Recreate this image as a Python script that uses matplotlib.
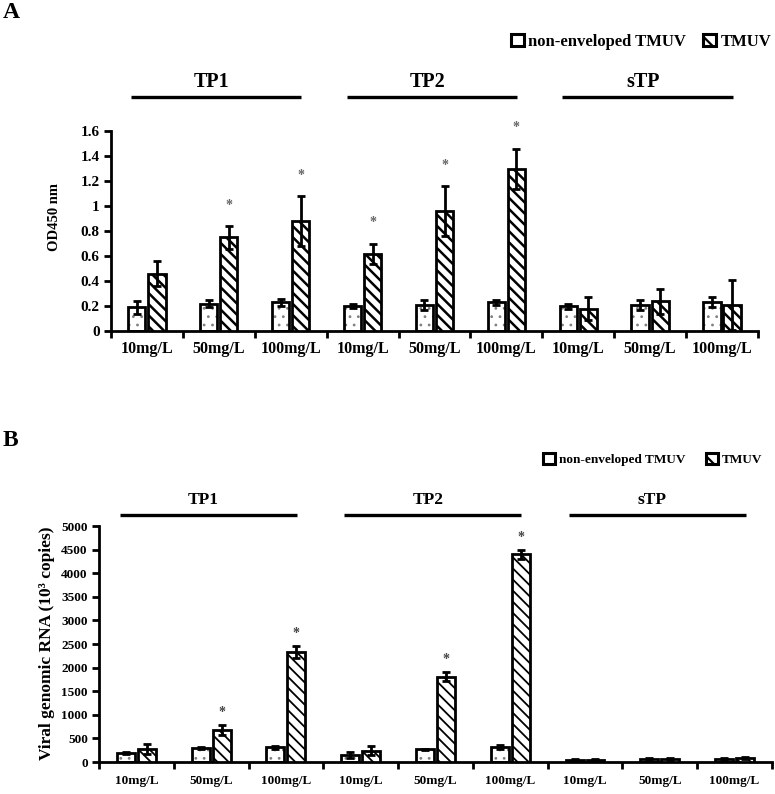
import numpy as np
import matplotlib
matplotlib.use('Agg')
import matplotlib.pyplot as plt
from matplotlib.patches import Patch

plt.rcParams['font.family'] = ['Liberation Serif', 'DejaVu Serif']
plt.rcParams['font.weight'] = 'bold'
plt.rcParams['hatch.linewidth'] = 1.6

doses = ['10mg/L', '50mg/L', '100mg/L'] * 3
groups = ['TP1', 'TP2', 'sTP']
series = ['non-enveloped TMUV', 'TMUV']

# panel A: OD450
od_plain = [0.19, 0.22, 0.23, 0.20, 0.21, 0.23, 0.20, 0.21, 0.23]
od_plain_err = [0.05, 0.03, 0.03, 0.015, 0.04, 0.02, 0.02, 0.04, 0.04]
od_tmuv = [0.46, 0.75, 0.88, 0.62, 0.96, 1.30, 0.18, 0.24, 0.21]
od_tmuv_err = [0.10, 0.09, 0.20, 0.08, 0.20, 0.16, 0.09, 0.10, 0.20]
od_sig = [False, True, True, True, True, True, False, False, False]
od_ticks = [0, 0.2, 0.4, 0.6, 0.8, 1.0, 1.2, 1.4, 1.6]
od_ticklabels = ['0', '0.2', '0.4', '0.6', '0.8', '1', '1.2', '1.4', '1.6']

# panel B: viral genomic RNA (10^3 copies)
rna_plain = [190, 290, 310, 150, 270, 320, 50, 70, 70]
rna_plain_err = [20, 20, 30, 70, 15, 40, 15, 20, 20]
rna_tmuv = [280, 680, 2330, 240, 1810, 4400, 50, 60, 80]
rna_tmuv_err = [100, 110, 120, 100, 100, 100, 15, 20, 25]
rna_sig = [False, True, True, False, True, True, False, False, False]
rna_ticks = list(range(0, 5001, 500))


def draw_panel(ax, plain, plain_err, tmuv, tmuv_err, sig, ticks, ticklabels,
               ytick_fs, xtick_fs, xlab_pad, line_y, text_y, group_fs, star_off,
               star_color, hatch_lw):
    x = np.arange(len(doses)) + 0.5
    w = 0.24
    lw = 2
    # dotted white bars: small grey dots, black outline on top
    with plt.rc_context({'hatch.linewidth': 0.8}):
        dots = ax.bar(x - 0.14, plain, w, color='white', edgecolor='#808080',
                      hatch='..', linewidth=0, zorder=2)
    for p in dots:
        if hasattr(p, 'set_hatch_linewidth'):
            p.set_hatch_linewidth(0.8)
    ax.bar(x - 0.14, plain, w, fill=False, edgecolor='black', linewidth=lw, zorder=3)
    with plt.rc_context({'hatch.linewidth': hatch_lw}):
        hb = ax.bar(x + 0.14, tmuv, w, color='white', edgecolor='black', hatch='\\\\\\',
                    linewidth=lw, zorder=3)
    for p in hb:
        if hasattr(p, 'set_hatch_linewidth'):
            p.set_hatch_linewidth(hatch_lw)
    ax.errorbar(x - 0.14, plain, yerr=plain_err, fmt='none', ecolor='black',
                elinewidth=lw, capsize=3, capthick=lw, zorder=4)
    ax.errorbar(x + 0.14, tmuv, yerr=tmuv_err, fmt='none', ecolor='black',
                elinewidth=lw, capsize=3, capthick=lw, zorder=4)

    for xi, v, e, s in zip(x, tmuv, tmuv_err, sig):
        if s:
            ax.annotate('*', (xi + 0.14, v + e), xytext=(0, star_off),
                        textcoords='offset points', ha='center', va='center',
                        fontsize=10, color=star_color, annotation_clip=False)

    ax.set_xlim(0, 9)
    ax.set_ylim(0, ticks[-1])
    ax.spines[['top', 'right']].set_visible(False)
    ax.spines[['left', 'bottom']].set_linewidth(2)
    ax.set_yticks(ticks)
    ax.set_yticklabels(ticklabels, fontsize=ytick_fs)
    ax.set_xticks(np.arange(0, 10))
    ax.set_xticklabels([])
    ax.set_xticks(x, doses, minor=True, fontsize=xtick_fs)
    ax.tick_params(axis='x', which='major', length=5, width=2)
    ax.tick_params(axis='x', which='minor', length=0, pad=xlab_pad)
    ax.tick_params(axis='y', length=5, width=2, pad=3)

    trans = ax.get_xaxis_transform()
    for i, g in enumerate(groups):
        ax.plot([3 * i + 0.28, 3 * i + 2.65], [line_y, line_y], transform=trans,
                color='black', lw=2.4, clip_on=False, solid_capstyle='butt')
        ax.text(3 * i + 1.4, text_y, g, transform=trans, ha='center', va='center',
                fontsize=group_fs)


fig = plt.figure(figsize=(7.75, 7.94), dpi=100)

axA = fig.add_axes([0.1432, 0.5831, 0.8348, 0.2519])
draw_panel(axA, od_plain, od_plain_err, od_tmuv, od_tmuv_err, od_sig,
           od_ticks, od_ticklabels, 11, 11.5, 7, 1.17, 1.245, 14.5, 15, '#666666', 1.8)

axB = fig.add_axes([0.1277, 0.0403, 0.8684, 0.2972])
draw_panel(axB, rna_plain, rna_plain_err, rna_tmuv, rna_tmuv_err, rna_sig,
           rna_ticks, [str(t) for t in rna_ticks], 9.5, 9.5, 9, 1.047, 1.11, 12.5, 9,
           '#444444', 1.3)

fig.text(0.0697, 0.727, 'OD450 nm', rotation=90, ha='center', va='center', fontsize=10.5)
fig.text(0.0606, 0.190, 'Viral genomic RNA (10³ copies)', rotation=90,
         ha='center', va='center', fontsize=12.5)

fig.text(0.004, 0.984, 'A', ha='left', va='center', fontsize=17)
fig.text(0.004, 0.4446, 'B', ha='left', va='center', fontsize=17)

with plt.rc_context({'hatch.linewidth': 3}):
    handles = [Patch(facecolor='white', edgecolor='black', linewidth=2.2),
               Patch(facecolor='white', edgecolor='black', hatch='\\\\', linewidth=2.2)]
for h in handles:
    if hasattr(h, 'set_hatch_linewidth'):
        h.set_hatch_linewidth(3)
fig.legend(handles, series, loc='center right', bbox_to_anchor=(0.995, 0.9475),
           ncol=2, frameon=False, fontsize=12, handlelength=0.8, handleheight=0.8,
           handletextpad=0.25, columnspacing=1.0, borderaxespad=0, borderpad=0)
fig.legend(handles, series, loc='center right', bbox_to_anchor=(0.983, 0.4207),
           ncol=2, frameon=False, fontsize=9.5, handlelength=0.9, handleheight=0.9,
           handletextpad=0.25, columnspacing=1.6, borderaxespad=0, borderpad=0)

fig.savefig('out.png', dpi=100)
